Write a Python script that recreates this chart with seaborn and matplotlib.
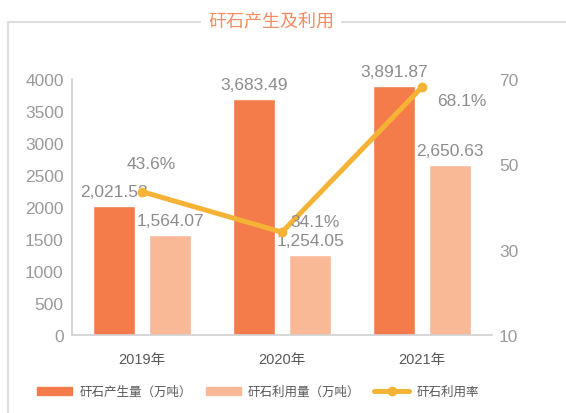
import matplotlib
matplotlib.use("Agg")
import matplotlib.pyplot as plt
from matplotlib.lines import Line2D
import seaborn as sns
import pandas as pd

sns.set_style("white")
plt.rcParams['font.family'] = ['Liberation Sans', 'Noto Sans CJK SC', 'DejaVu Sans']

years = ["2019年", "2020年", "2021年"]
produced = [2021.53, 3683.49, 3891.87]
used = [1564.07, 1254.05, 2650.63]
rate = [43.6, 34.1, 68.1]
series_names = ["矸石产生量（万吨）", "矸石利用量（万吨）"]
rate_name = "矸石利用率"

bar_colors = ["#F47B4A", "#F9B896"]
line_color = "#F5B335"
grey = "#8C8C8C"

df = pd.DataFrame({
    "year": years * 2,
    "value": produced + used,
    "series": [series_names[0]] * 3 + [series_names[1]] * 3,
})
df_rate = pd.DataFrame({"year": years, "rate": rate})

fig = plt.figure(figsize=(5.66, 4.14), dpi=100)
ax = fig.add_axes([72 / 566, 1 - 336 / 414, 420 / 566, 256 / 414])

sns.barplot(data=df, x="year", y="value", hue="series", palette=bar_colors,
            width=0.8, gap=0.25, ax=ax, legend=False, saturation=1)
ax.set_xlim(-0.5, 2.5)
ax.set_ylim(0, 4000)
ax.set_yticks(range(0, 4001, 500))
ax.set_xlabel("")
ax.set_ylabel("")
for s in ["top", "right"]:
    ax.spines[s].set_visible(False)
for s in ["left", "bottom"]:
    ax.spines[s].set_color("#D0D0D0")
    ax.spines[s].set_linewidth(1.2)
ax.tick_params(axis="y", length=0, pad=6, labelsize=12.5, labelcolor="#9A9A9A")
ax.tick_params(axis="x", length=0, pad=12, labelsize=10.5, labelcolor="#595959")

for cont in ax.containers:
    for bar in cont:
        h = bar.get_height()
        ax.annotate(f"{h:,.2f}", (bar.get_x() + bar.get_width() / 2, h),
                    xytext=(0, 5), textcoords="offset points",
                    ha="center", va="bottom", fontsize=12.5, color=grey)

ax2 = ax.twinx()
sns.lineplot(data=df_rate, x="year", y="rate", ax=ax2, color=line_color,
             linewidth=3.6, marker="o", markersize=7, markeredgewidth=0)
ax2.set_ylim(10, 70)
ax2.set_yticks([10, 30, 50, 70])
ax2.set_ylabel("")
ax2.set_xlabel("")
for s in ["top", "right", "left", "bottom"]:
    ax2.spines[s].set_visible(False)
ax2.tick_params(axis="y", length=0, pad=5, labelsize=12.5, labelcolor="#9A9A9A")

offsets = [(7, 20), (24, 8), (29, -10)]
for i, (r, off) in enumerate(zip(rate, offsets)):
    ax2.annotate(f"{r}%", (i, r), xytext=off, textcoords="offset points",
                 ha="center", va="center", fontsize=12.5, color=grey)

# frame with title break
frame_kw = dict(color="#DDDDDD", linewidth=1.5, transform=fig.transFigure)
fig.add_artist(Line2D([8 / 566, 8 / 566], [0, 1 - 23 / 414], **frame_kw))
fig.add_artist(Line2D([8 / 566, 200 / 566], [1 - 23 / 414] * 2, **frame_kw))
fig.add_artist(Line2D([342 / 566, 1], [1 - 23 / 414] * 2, **frame_kw))
fig.text(271 / 566, 1 - 22 / 414, "矸石产生及利用", ha="center", va="center",
         fontsize=13, color="#F58B5F")

handles = [plt.Rectangle((0, 0), 1, 1, color=bar_colors[0]),
           plt.Rectangle((0, 0), 1, 1, color=bar_colors[1]),
           Line2D([], [], color=line_color, linewidth=3.6, marker="o",
                  markersize=7, markeredgewidth=0)]
fig.legend(handles, series_names + [rate_name], loc="center",
           bbox_to_anchor=(258 / 566, 1 - 393 / 414), ncol=3, frameon=False,
           fontsize=9, labelcolor="#595959", handlelength=2.8, handleheight=0.65,
           handletextpad=0.6, columnspacing=1.1)

fig.savefig("out.png", dpi=100)
